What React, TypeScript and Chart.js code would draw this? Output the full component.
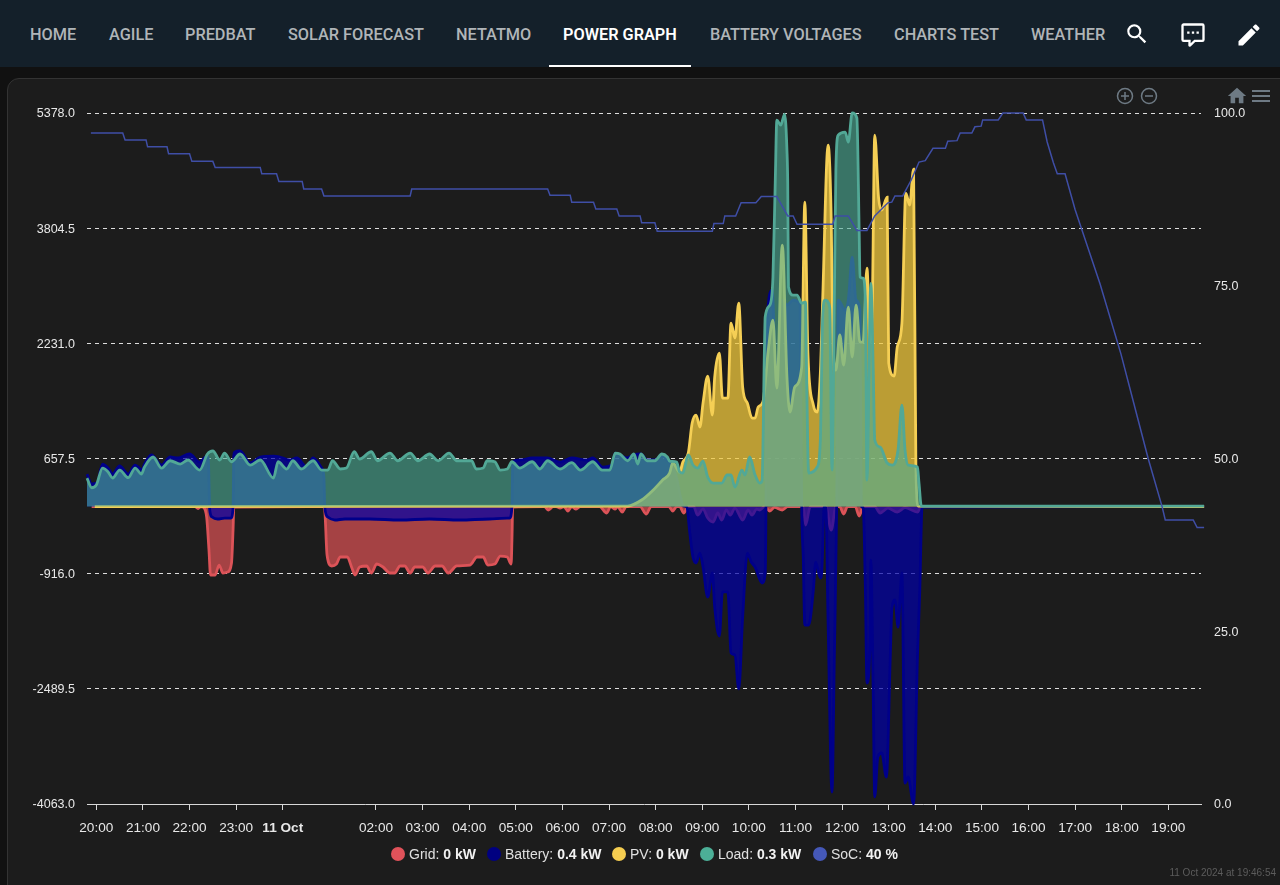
import React, { useEffect, useRef } from 'react';
import { Chart, registerables } from 'chart.js';

Chart.register(...registerables);

// x is minutes after 20:00 on 10 Oct, y is watts (SoC is percent)
const gridSeries: [number, number][] = [
  [-6, 0], [127, 0], [131, -26], [134, 0], [137, -5], [142, -142], [145, -593], [147, -934], [153, -934], [158, -798],
  [163, -907], [169, -893], [174, -770], [176, -320], [177, -5], [292, 0], [294, -46], [297, -661], [303, -811], [309, -784],
  [314, -688], [323, -688], [329, -839], [333, -934], [339, -825], [348, -811], [354, -907], [361, -784], [369, -825], [378, -907],
  [384, -907], [391, -811], [397, -811], [404, -907], [410, -825], [420, -825], [427, -907], [436, -811], [445, -811], [453, -907],
  [464, -811], [481, -798], [490, -688], [498, -688], [504, -798], [513, -784], [520, -675], [529, -688], [534, -784], [535, -456],
  [536, -5], [577, 0], [582, -46], [588, 0], [592, 0], [597, -20], [602, 0], [607, -60], [612, 0], [617, -33],
  [623, 0], [648, 0], [657, -87], [662, 0], [668, -33], [671, 0], [677, -74], [682, 0], [700, 0], [708, -101],
  [714, 0], [737, 0], [742, -60], [747, 0], [751, 0], [756, -87], [762, 0], [769, 0], [774, -115], [781, -30],
  [787, -156], [794, -210], [800, -87], [805, -183], [811, -46], [816, -115], [822, -20], [832, -183], [839, -46], [844, -115],
  [850, -33], [854, -46], [860, 0], [867, -60], [873, -10], [883, -46], [890, 0], [910, 0], [913, -251], [919, 0],
  [939, 0], [946, -320], [952, 0], [957, 0], [962, -101], [967, 0], [977, 0], [982, -128], [987, 0], [1002, 0],
  [1009, -87], [1019, -20], [1031, -74], [1041, -15], [1057, -74], [1062, 0], [1426, 0],
];

const batterySeries: [number, number][] = [
  [-12, 444], [-6, 309], [1, 322], [8, 582], [15, 527], [21, 445], [30, 555], [41, 445], [50, 568], [59, 500],
  [62, 582], [71, 705], [84, 568], [95, 678], [105, 664], [120, 719], [133, 609], [141, 678], [144, 678], [146, -46],
  [149, -142], [156, -169], [165, -156], [173, -156], [176, -20], [177, 704], [178, 745], [185, 760], [198, 596], [211, 678],
  [228, 691], [236, 678], [249, 637], [258, 664], [271, 541], [279, 664], [290, 527], [293, 400], [294, -5], [298, -142],
  [307, -183], [320, -169], [352, -169], [391, -183], [429, -169], [468, -183], [506, -169], [532, -156], [535, -5], [536, 609],
  [545, 637], [561, 664], [580, 664], [597, 609], [612, 664], [632, 637], [639, 664], [652, 541], [664, 568], [668, 732],
  [683, 664], [691, 705], [701, 719], [709, 637], [719, 637], [728, 691], [735, 637], [741, 555], [747, 391], [752, 131],
  [756, 8], [760, -5], [764, -361], [768, -689], [772, -770], [777, -634], [781, -825], [787, -1235], [793, -907], [796, -1371],
  [802, -1768], [806, -1166], [813, -1166], [817, -2000], [822, -2027], [827, -2491], [832, -1508], [838, -634], [843, -757], [848, -825],
  [857, -1044], [861, -907], [862, -5], [863, 2412], [870, 2958], [875, 1730], [883, 2822], [889, 2753], [897, 2822], [906, 2753],
  [908, -5], [910, -689], [912, -1618], [917, -1618], [923, -1141], [926, -757], [932, -976], [934, -866], [937, -5], [939, -5],
  [942, -1591], [947, -3900], [950, -2055], [953, -5], [955, 2822], [964, 2685], [968, 2822], [973, 3408], [978, 2822], [983, 2685],
  [985, -5], [987, -5], [990, -1141], [992, -2410], [996, -1824], [997, -730], [1000, -2505], [1002, -3967], [1006, -3420], [1011, -3366],
  [1017, -3694], [1022, -2055], [1024, -1413], [1028, -1276], [1032, -1645], [1037, -907], [1041, -3776], [1045, -3694], [1052, -4063], [1057, -2055],
  [1060, -1141], [1063, -5], [1426, 0],
];

const pvSeries: [number, number][] = [
  [-2, 0], [684, 8], [702, 90], [717, 228], [729, 363], [738, 459], [742, 596], [751, 473], [755, 609], [762, 732],
  [767, 1142], [772, 1251], [777, 1087], [781, 1415], [787, 1784], [793, 1251], [796, 1770], [802, 2098], [806, 1483], [813, 1483],
  [817, 2508], [822, 2303], [827, 2781], [832, 1634], [838, 1415], [844, 1210], [848, 1210], [852, 1361], [858, 1429], [865, 2140],
  [871, 2549], [876, 1620], [883, 3573], [889, 1770], [893, 1292], [899, 1634], [908, 1907], [912, 4161], [916, 2098], [923, 1388],
  [928, 1292], [932, 1825], [935, 2822], [942, 4940], [946, 3915], [948, 2372], [952, 1865], [957, 2345], [962, 1933], [968, 2727],
  [973, 2044], [978, 2754], [983, 2247], [987, 2247], [992, 3258], [996, 2247], [999, 2822], [1002, 5076], [1007, 4215], [1011, 4051],
  [1018, 4229], [1020, 1962], [1027, 1784], [1031, 2180], [1037, 2508], [1042, 4283], [1047, 4120], [1052, 4611], [1055, 541], [1058, 8],
  [1426, 0],
];

const loadSeries: [number, number][] = [
  [-12, 390], [-6, 258], [0, 295], [8, 527], [15, 477], [21, 391], [30, 500], [41, 395], [50, 527], [58, 445],
  [62, 541], [73, 678], [84, 527], [95, 627], [108, 582], [118, 637], [133, 500], [143, 719], [150, 760], [159, 637],
  [165, 732], [174, 613], [185, 719], [198, 568], [211, 637], [228, 391], [234, 613], [245, 514], [253, 627], [264, 514],
  [279, 627], [290, 500], [298, 500], [304, 627], [314, 514], [322, 527], [332, 750], [339, 650], [354, 750], [362, 627],
  [378, 732], [388, 627], [404, 732], [414, 627], [429, 719], [440, 627], [454, 732], [464, 627], [483, 627], [489, 514],
  [498, 527], [503, 627], [513, 613], [520, 500], [529, 514], [535, 613], [545, 527], [561, 613], [571, 514], [581, 627],
  [597, 514], [612, 600], [623, 500], [639, 613], [651, 500], [661, 500], [668, 732], [674, 719], [684, 627], [692, 719],
  [697, 582], [701, 719], [709, 627], [719, 627], [728, 719], [735, 678], [738, 623], [747, 609], [751, 473], [755, 459],
  [762, 705], [768, 568], [774, 527], [781, 623], [787, 404], [794, 322], [805, 322], [812, 432], [817, 432], [822, 268],
  [831, 500], [835, 432], [841, 678], [848, 432], [854, 322], [857, 360], [860, 2140], [861, 2590], [867, 2754], [871, 3136],
  [874, 4460], [876, 5280], [881, 5212], [886, 5363], [889, 4870], [890, 4420], [891, 3000], [897, 2890], [902, 2890], [908, 2780],
  [913, 2795], [914, 2040], [917, 459], [928, 541], [932, 910], [935, 2590], [938, 2822], [944, 2727], [947, 500], [950, 2822],
  [952, 4600], [955, 5075], [964, 5117], [968, 4980], [973, 5378], [979, 5310], [982, 3736], [983, 3136], [987, 3122], [990, 2820],
  [992, 364], [997, 3050], [1000, 1907], [1002, 910], [1009, 814], [1018, 596], [1025, 568], [1032, 773], [1037, 1388], [1041, 773],
  [1045, 568], [1057, 541], [1059, 322], [1062, 8], [1073, 6], [1426, 8],
];

const socSeries: [number, number][] = [
  [-7, 97.1], [34, 97.1], [37, 96.1], [64, 96.1], [66, 95.1], [91, 95.1], [93, 94.1], [120, 94.1], [123, 93], [150, 93],
  [153, 92.1], [211, 92.1], [213, 91.2], [232, 91.2], [235, 90.1], [265, 90.1], [267, 89], [290, 89], [293, 88], [404, 88],
  [406, 89], [581, 89], [584, 88.1], [610, 88.1], [612, 87.1], [640, 87.1], [643, 86.1], [670, 86.1], [673, 85.1], [700, 85.1],
  [702, 84.1], [719, 84.1], [722, 82.9], [793, 82.9], [795, 84], [807, 84], [809, 85.1], [823, 85.1], [830, 87], [849, 87],
  [856, 87.9], [876, 87.9], [890, 85.1], [897, 85.1], [902, 83.9], [948, 83.9], [951, 85.1], [968, 85.1], [979, 83], [992, 83],
  [1002, 85.1], [1019, 87], [1024, 87.1], [1028, 88], [1038, 88], [1049, 90.3], [1059, 92.9], [1067, 93.1], [1077, 94.9], [1093, 94.9],
  [1096, 95.9], [1108, 96], [1112, 97.1], [1127, 97.1], [1131, 98], [1139, 98.1], [1141, 99], [1161, 99], [1167, 100], [1193, 100],
  [1197, 99], [1218, 99], [1224, 95.8], [1232, 92.8], [1237, 91.2], [1247, 91.2], [1260, 86], [1292, 75.3], [1319, 65.1], [1341, 55.6],
  [1354, 50], [1372, 43], [1376, 41.1], [1412, 41.1], [1417, 40], [1426, 40],
];

const xTickMinutes = [0, 60, 120, 180, 240, 360, 420, 480, 540, 600, 660, 720, 780, 840, 900, 960, 1020, 1080, 1140, 1200, 1260, 1320, 1380];
const xTickLabels = ['20:00', '21:00', '22:00', '23:00', '11 Oct', '02:00', '03:00', '04:00', '05:00', '06:00', '07:00', '08:00', '09:00', '10:00', '11:00', '12:00', '13:00', '14:00', '15:00', '16:00', '17:00', '18:00', '19:00'];
const powerTicks = [-4063, -2489.5, -916, 657.5, 2231, 3804.5, 5378];
const socTicks = [0, 25, 50, 75, 100];

const navItems: [string, number][] = [
  ['HOME', 30], ['AGILE', 109], ['PREDBAT', 185], ['SOLAR FORECAST', 288], ['NETATMO', 456],
  ['POWER GRAPH', 563], ['BATTERY VOLTAGES', 710], ['CHARTS TEST', 894], ['WEATHER', 1031],
];
const legendItems: [string, string, string, number][] = [
  ['Grid', '0 kW', '#e0525a', 398],
  ['Battery', '0.4 kW', '#000080', 494],
  ['PV', '0 kW', '#f5cd50', 619],
  ['Load', '0.3 kW', '#4caf97', 707],
  ['SoC', '40 %', '#4558b8', 820],
];

const toPoints = (series: [number, number][]) => series.map(([x, y]) => ({ x, y }));
const axisFont = '"Liberation Sans", Arial, sans-serif';

const Icon = ({ d, x, y, size, color }: { d: string; x: number; y: number; size: number; color: string }) => (
  <svg viewBox="0 0 24 24" width={size} height={size} style={{ position: 'absolute', left: x - size / 2, top: y - size / 2 }}>
    <path d={d} fill={color} />
  </svg>
);

export default function App() {
  const chartRef = useRef<HTMLCanvasElement>(null);

  useEffect(() => {
    if (!chartRef.current) return;
    const areaStyle = { borderWidth: 2.8, fill: 'origin', pointRadius: 0, cubicInterpolationMode: 'monotone', clip: 4, yAxisID: 'y' };
    const chart = new Chart(chartRef.current, {
      type: 'line',
      data: {
        datasets: [
          { ...areaStyle, label: 'Grid', data: toPoints(gridSeries), order: 5, borderColor: '#dc5358', backgroundColor: 'rgba(224,82,86,0.7)' },
          { ...areaStyle, label: 'Battery', data: toPoints(batterySeries), order: 4, borderColor: '#00008a', backgroundColor: 'rgba(0,0,170,0.7)' },
          { ...areaStyle, label: 'PV', data: toPoints(pvSeries), order: 3, borderColor: '#f5cf55', backgroundColor: 'rgba(240,200,60,0.75)' },
          { ...areaStyle, label: 'Load', data: toPoints(loadSeries), order: 2, borderColor: '#52a896', backgroundColor: 'rgba(76,175,151,0.6)' },
          { label: 'SoC', data: toPoints(socSeries), yAxisID: 'y2', order: 1, borderColor: '#3f4ea6', borderWidth: 1.5, fill: false, pointRadius: 0, tension: 0, clip: 4 },
        ],
      },
      options: {
        responsive: false,
        animation: false,
        layout: { padding: { top: 113 } },
        plugins: { legend: { display: false }, tooltip: { enabled: false } },
        scales: {
          x: {
            type: 'linear',
            min: -12,
            max: 1422,
            afterBuildTicks: (axis: any) => {
              axis.ticks = xTickMinutes.map((value) => ({ value }));
            },
            afterFit: (axis: any) => {
              axis.height = 81;
            },
            grid: { drawOnChartArea: false, color: '#d8d8d8', tickLength: 6 },
            border: { color: '#d8d8d8' },
            ticks: {
              autoSkip: false,
              maxRotation: 0,
              padding: 10,
              color: '#e8e8e8',
              font: (ctx: any) => ({ family: axisFont, size: 13.6, weight: xTickLabels[ctx.index] === '11 Oct' ? 'bold' : 'normal' }),
              callback: (_value: any, index: number) => xTickLabels[index],
            },
          },
          y: {
            position: 'left',
            min: -4063,
            max: 5378,
            afterBuildTicks: (axis: any) => {
              axis.ticks = powerTicks.map((value) => ({ value }));
            },
            afterFit: (axis: any) => {
              axis.width = 87;
            },
            grid: { color: 'rgba(255,255,255,0.85)', drawTicks: false },
            border: { display: false, dash: [4, 4] },
            ticks: {
              padding: 12,
              labelOffset: 1,
              color: '#e8e8e8',
              font: { family: axisFont, size: 12.5 },
              callback: (value: any) => Number(value).toFixed(1),
            },
          },
          y2: {
            position: 'right',
            min: 0,
            max: 100,
            afterBuildTicks: (axis: any) => {
              axis.ticks = socTicks.map((value) => ({ value }));
            },
            afterFit: (axis: any) => {
              axis.width = 79;
            },
            grid: { display: false, drawTicks: false },
            border: { display: false },
            ticks: {
              padding: 13,
              labelOffset: 1,
              color: '#e8e8e8',
              font: { family: axisFont, size: 12.5 },
              callback: (value: any) => Number(value).toFixed(1),
            },
          },
        },
      },
    });
    return () => chart.destroy();
  }, []);

  return (
    <div style={{ position: 'fixed', left: 0, top: 0, width: 1280, height: 885, overflow: 'hidden', background: '#111111' }}>
      <div style={{ position: 'absolute', left: 0, top: 0, width: 1280, height: 67, background: '#14202a' }}>
        {navItems.map(([label, left]) => (
          <span
            key={label}
            style={{
              position: 'absolute',
              left,
              top: 25,
              lineHeight: '20px',
              fontFamily: 'Roboto, sans-serif',
              fontSize: 16.3,
              whiteSpace: 'nowrap',
              fontWeight: label === 'POWER GRAPH' ? 600 : 500,
              color: label === 'POWER GRAPH' ? '#ffffff' : '#b0b5b8',
            }}
          >
            {label}
          </span>
        ))}
        <div style={{ position: 'absolute', left: 549, top: 65, width: 142, height: 2, background: '#ffffff' }} />
        <Icon x={1137} y={34} size={26} color="#ffffff" d="M9.5,3A6.5,6.5 0 0,1 16,9.5C16,11.11 15.41,12.59 14.44,13.73L14.71,14H15.5L20.5,19L19,20.5L14,15.5V14.71L13.73,14.44C12.59,15.41 11.11,16 9.5,16A6.5,6.5 0 0,1 3,9.5A6.5,6.5 0 0,1 9.5,3M9.5,5C7,5 5,7 5,9.5C5,12 7,14 9.5,14C12,14 14,12 14,9.5C14,7 12,5 9.5,5Z" />
        <Icon x={1193} y={35} size={28} color="#ffffff" d="M9,22A1,1 0 0,1 8,21V18H4A2,2 0 0,1 2,16V4C2,2.89 2.9,2 4,2H20A2,2 0 0,1 22,4V16A2,2 0 0,1 20,18H13.9L10.2,21.71C10,21.9 9.75,22 9.5,22H9M10,16V19.08L13.08,16H20V4H4V16H10M17,11H15V9H17V11M13,11H11V9H13V11M9,11H7V9H9V11Z" />
        <Icon x={1249} y={35} size={28} color="#ffffff" d="M20.71,7.04C21.1,6.65 21.1,6 20.71,5.63L18.37,3.29C18,2.9 17.35,2.9 16.96,3.29L15.12,5.12L18.87,8.87M3,17.25V21H6.75L17.81,9.93L14.06,6.18L3,17.25Z" />
      </div>
      <div style={{ position: 'absolute', left: 7, top: 78, width: 1290, height: 830, background: '#1c1c1c', border: '1px solid #333333', borderRadius: 12, boxSizing: 'border-box' }} />
      <canvas ref={chartRef} width={1280} height={885} style={{ position: 'absolute', left: 0, top: 0, display: 'block' }} />
      <svg width={50} height={20} style={{ position: 'absolute', left: 1115, top: 86 }}>
        <g fill="none" stroke="#6e7a84" strokeWidth={1.5}>
          <circle cx={10} cy={10} r={7.5} />
          <path d="M6 10H14M10 6V14" />
          <circle cx={34} cy={10} r={7.5} />
          <path d="M30 10H38" />
        </g>
      </svg>
      <Icon x={1237} y={96} size={22} color="#6e7a84" d="M10,20V14H14V20H19V12H22L12,3L2,12H5V20H10Z" />
      <Icon x={1261} y={96} size={24} color="#6e7a84" d="M3,6H21V8H3V6M3,11H21V13H3V11M3,16H21V18H3V16Z" />
      {legendItems.map(([name, value, color, left]) => (
        <div key={name} style={{ position: 'absolute', left: left - 7, top: 845, height: 18, display: 'flex', alignItems: 'center', whiteSpace: 'nowrap', fontFamily: axisFont, fontSize: 14, color: '#e0e0e0' }}>
          <span style={{ width: 14, height: 14, borderRadius: 7, background: color, marginRight: 4 }} />
          <span>
            {name}: <b style={{ color: '#f2f2f2' }}>{value}</b>
          </span>
        </div>
      ))}
      <div style={{ position: 'absolute', right: 4, top: 867, fontFamily: axisFont, fontSize: 10, color: '#5c5c5c', whiteSpace: 'nowrap' }}>
        11 Oct 2024 at 19:46:54
      </div>
    </div>
  );
}
